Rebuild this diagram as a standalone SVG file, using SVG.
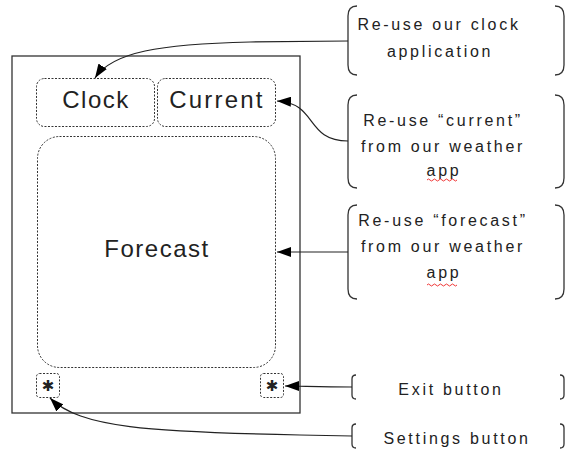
<svg xmlns="http://www.w3.org/2000/svg" width="573" height="460" viewBox="0 0 573 460">
<defs>
<marker id="ah" viewBox="0 0 14 10" refX="14" refY="5" markerWidth="14" markerHeight="10" markerUnits="userSpaceOnUse" orient="auto">
<path d="M0,0 L14,5 L0,10 Z" fill="#000"/>
</marker>
<style>
.frame{fill:#fff;stroke:#333;stroke-width:1.3}
.dot{fill:none;stroke:#333;stroke-width:1;stroke-dasharray:2,1.5}
.br{fill:none;stroke:#333;stroke-width:1.3}
.con{fill:none;stroke:#222;stroke-width:1.2;marker-end:url(#ah)}
.big{font-family:"Liberation Sans",Arial,sans-serif;font-size:24px;fill:#222;text-anchor:middle;letter-spacing:1.5px}
.sm{font-family:"Liberation Sans",Arial,sans-serif;font-size:16px;fill:#222;text-anchor:middle;letter-spacing:2.7px}
.star{font-family:"DejaVu Sans",sans-serif;font-size:15px;fill:#222;text-anchor:middle}
.sq{fill:none;stroke:#e22;stroke-width:0.9}
</style>
</defs>
<rect width="573" height="460" fill="#fff"/>
<g id="frame"><rect class="frame" x="12" y="56" width="288" height="357"/></g>
<g id="clock"><rect class="dot" x="36.5" y="78.5" width="118" height="48" rx="8"/><text class="big" x="96" y="108">Clock</text></g>
<g id="current"><rect class="dot" x="157.5" y="78.5" width="118" height="48" rx="8"/><text class="big" x="217" y="108" style="letter-spacing:2.2px">Current</text></g>
<g id="forecast"><rect class="dot" x="37.5" y="136.5" width="238" height="231" rx="22"/><text class="big" x="157" y="257">Forecast</text></g>
<g id="settings"><rect class="dot" x="36.5" y="373.5" width="23" height="24" rx="3"/><text class="star" x="48" y="391">✱</text></g>
<g id="exit"><rect class="dot" x="260.5" y="373.5" width="23" height="24" rx="3"/><text class="star" x="272" y="391">✱</text></g>
<g id="note-clock"><path class="br" d="M357,6 Q348,6 348,16 L348,65 Q348,75 357,75"/><path class="br" d="M555,6 Q564,6 564,16 L564,65 Q564,75 555,75"/>
<text class="sm" x="439" y="30">Re-use our clock</text><text class="sm" x="440" y="57">application</text></g>
<g id="note-current"><path class="br" d="M357,95 Q348,95 348,105 L348,178 Q348,188 357,188"/><path class="br" d="M555,95 Q564,95 564,105 L564,178 Q564,188 555,188"/>
<text class="sm" x="443" y="126">Re-use “current”</text><text class="sm" x="443" y="152">from our weather</text><text class="sm" x="444" y="176">app</text>
<path class="sq" d="M427,180 q1.5,-2 3,0 t3,0 t3,0 t3,0 t3,0 t3,0 t3,0 t3,0 t3,0 t3,0"/></g>
<g id="note-forecast"><path class="br" d="M357,205 Q348,205 348,215 L348,289 Q348,299 357,299"/><path class="br" d="M555,205 Q564,205 564,215 L564,289 Q564,299 555,299"/>
<text class="sm" x="443" y="226">Re-use “forecast”</text><text class="sm" x="443" y="252">from our weather</text><text class="sm" x="444" y="278">app</text>
<path class="sq" d="M427,285 q1.5,-2 3,0 t3,0 t3,0 t3,0 t3,0 t3,0 t3,0 t3,0 t3,0 t3,0"/></g>
<g id="note-exit"><path class="br" d="M356,375 Q352,375 352,379 L352,395 Q352,399 356,399"/><path class="br" d="M560,375 Q564,375 564,379 L564,395 Q564,399 560,399"/>
<text class="sm" x="451" y="395">Exit button</text></g>
<g id="note-settings"><path class="br" d="M356,424 Q352,424 352,428 L352,444 Q352,448 356,448"/><path class="br" d="M560,424 Q564,424 564,428 L564,444 Q564,448 560,448"/>
<text class="sm" x="457" y="444">Settings button</text></g>
<g id="connectors">
<path class="con" d="M348,41 L250,42 C160,44 112,52 95,78"/>
<path class="con" d="M348,141 C305,141 318,103 277,101"/>
<path class="con" d="M348,252 L277,252"/>
<path class="con" d="M352,387 C320,387 300,386 285,386"/>
<path class="con" d="M352,436 L300,435 C150,432 80,428 50,398"/>
</g>
</svg>
